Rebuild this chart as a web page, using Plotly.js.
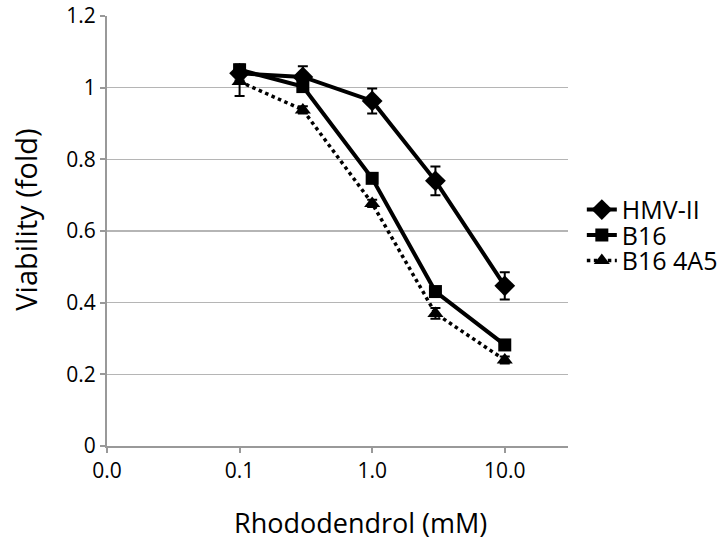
<!DOCTYPE html>
<html>
<head>
<meta charset="utf-8">
<script src="https://cdn.plot.ly/plotly-3.0.1.min.js"></script>
<style>html,body{margin:0;padding:0;background:#fff;}#chart{width:727px;height:541px;}</style>
</head>
<body>
<div id="chart"></div>
<script>
var concentrations = [0.1, 0.3, 1, 3, 10];
var hmvValues = [1.04, 1.03, 0.963, 0.740, 0.447];
var hmvErrors = [0.02, 0.03, 0.035, 0.04, 0.038];
var b16Values = [1.05, 1.003, 0.747, 0.431, 0.282];
var b16Errors = [0.015, 0.01, 0.01, 0.01, 0.01];
var b164a5Values = [1.017, 0.938, 0.677, 0.370, 0.240];
var b164a5Errors = [0.04, 0.01, 0.01, 0.015, 0.01];
var xTickVals = [0.01, 0.1, 1, 10];
var xTickText = ["0.0", "0.1", "1.0", "10.0"];
var yTickVals = [0, 0.2, 0.4, 0.6, 0.8, 1, 1.2];
var yTickText = ["0", "0.2", "0.4", "0.6", "0.8", "1", "1.2"];
var xTitle = 'Rhododendrol (mM)';
var yTitle = 'Viability (fold)';

var font = "Open Sans, Liberation Sans, sans-serif";
function errs(arr){return {type:'data', array:arr, visible:true, color:'#000', thickness:2, width:5};}

var traces = [
  {x: concentrations, y: hmvValues, name: 'HMV-II', mode: 'lines+markers', type: 'scatter',
   line: {color: '#000', width: 4}, marker: {symbol: 'diamond', size: 16, color: '#000'},
   error_y: errs(hmvErrors)},
  {x: concentrations, y: b16Values, name: 'B16', mode: 'lines+markers', type: 'scatter',
   line: {color: '#000', width: 4}, marker: {symbol: 'square', size: 13, color: '#000'},
   error_y: errs(b16Errors)},
  {x: concentrations, y: b164a5Values, name: 'B16 4A5', mode: 'lines+markers', type: 'scatter',
   line: {color: '#000', width: 3.5, dash: 'dot'}, marker: {symbol: 'triangle-up', size: 14, color: '#000'},
   error_y: errs(b164a5Errors)}
];

var layout = {
  width: 727, height: 541,
  margin: {l: 107, r: 159, t: 16, b: 95, autoexpand: false},
  paper_bgcolor: '#fff', plot_bgcolor: '#fff',
  font: {family: font, color: '#000'},
  showlegend: true,
  legend: {x: 1.03, xanchor: 'left', y: 0.49, yanchor: 'middle', font: {size: 25, family: font},
           tracegroupgap: 0, itemwidth: 30, bgcolor: 'rgba(0,0,0,0)'},
  xaxis: {type: 'log', range: [-2, 1.477], tickvals: xTickVals, ticktext: xTickText, automargin: false,
          showgrid: false, zeroline: false, showline: true, linecolor: '#999', linewidth: 2,
          ticks: 'outside', ticklen: 5, tickcolor: '#999', tickwidth: 2,
          tickfont: {size: 21, family: font}},
  yaxis: {range: [0, 1.2], tickvals: yTickVals, ticktext: yTickText, automargin: false,
          showgrid: true, gridcolor: '#b5b5b5', gridwidth: 1.5, zeroline: false,
          showline: true, linecolor: '#999', linewidth: 2,
          ticks: 'outside', ticklen: 5, tickcolor: '#999', tickwidth: 2,
          tickfont: {size: 21, family: font}},
  annotations: [
    {text: xTitle, xref: 'paper', yref: 'paper', x: 0.549, y: -0.179, xanchor: 'center', yanchor: 'middle',
     showarrow: false, font: {size: 27, family: font, color: '#000'}},
    {text: yTitle, xref: 'paper', yref: 'paper', x: -0.176, y: 0.526, xanchor: 'center', yanchor: 'middle',
     textangle: -90, showarrow: false, font: {size: 29, family: font, color: '#000'}}
  ]
};

Plotly.newPlot('chart', traces, layout, {displayModeBar: false, staticPlot: true}).then(function(gd){
  var items = gd.querySelectorAll('.legend .traces');
  if (items.length === 3) {
    var ys = [];
    items.forEach(function(it){
      var m = /translate\(\s*([-\d.]+)[ ,]+([-\d.]+)\s*\)/.exec(it.getAttribute('transform') || '');
      ys.push(m ? [parseFloat(m[1]), parseFloat(m[2])] : [0, 0]);
    });
    var mid = ys[1][1];
    items.forEach(function(it, i){
      it.setAttribute('transform', 'translate(' + ys[i][0] + ',' + (mid + (i - 1) * 25.5) + ')');
    });
  }
});
</script>
</body>
</html>
